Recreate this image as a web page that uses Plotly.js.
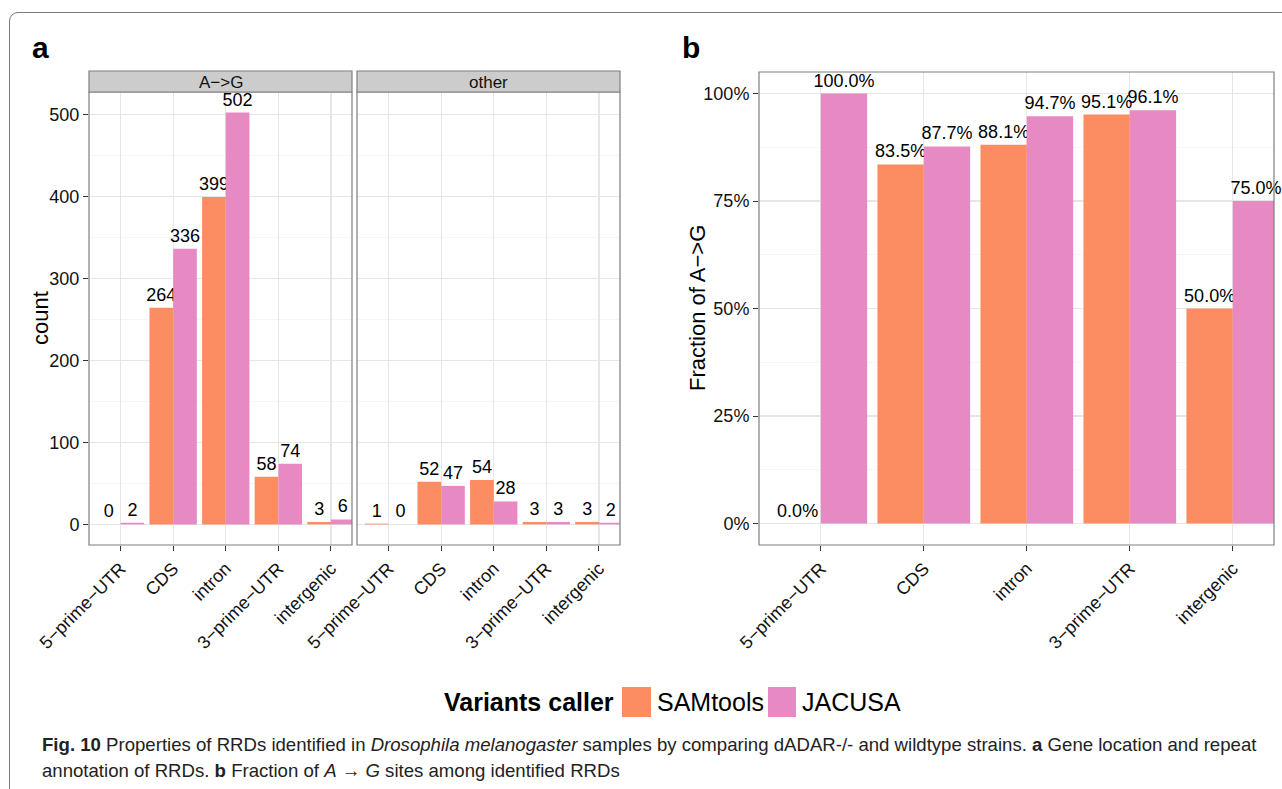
<!DOCTYPE html>
<html>
<head>
<meta charset="utf-8">
<script src="https://cdn.plot.ly/plotly-3.0.1.min.js"></script>
<style>
  html, body { margin: 0; padding: 0; background: #fff; overflow: hidden; }
  #frame { position: absolute; left: 9px; top: 12px; width: 1300px; height: 820px;
           border: 1.5px solid #7a7a7a; border-radius: 9px; box-sizing: border-box; }
  #chart { position: absolute; left: 0; top: 0; width: 1282px; height: 789px; }
</style>
</head>
<body>
<div id="frame"></div>
<div id="chart"></div>
<script>
// ---- data ----
const regions = ["5−prime−UTR", "CDS", "intron", "3−prime−UTR", "intergenic"];
const facetNames = ["A−>G", "other"];
const callers = ["SAMtools", "JACUSA"];
const colors = ["#FC8D62", "#E78AC3"];

const agSAMtools = [0, 264, 399, 58, 3];
const agJACUSA = [2, 336, 502, 74, 6];
const otherSAMtools = [1, 52, 54, 3, 3];
const otherJACUSA = [0, 47, 28, 3, 2];

const fracSAMtools = [0.0, 0.835, 0.881, 0.951, 0.500];
const fracJACUSA = [1.0, 0.877, 0.947, 0.961, 0.750];

const yTitleA = "count";
const yTitleB = "Fraction of A−>G";

// ---- layout geometry helpers ----
const W = 1282, H = 789;
const px = v => v / W;
const py = v => 1 - v / H;
const FAM = "Liberation Sans, Arial, sans-serif";

const textFont = { family: FAM, size: 18, color: "#000" };

function barTrace(xa, ya, y, name, color, fmt) {
  return {
    type: "bar", x: regions, y: y, name: name, xaxis: xa, yaxis: ya,
    marker: { color: color, line: { width: 0 } },
    text: y.map(fmt), textposition: "outside", textfont: textFont,
    constraintext: "none", cliponaxis: false, showlegend: false,
    hoverinfo: "x+y+name"
  };
}
const cnt = v => String(v);
const pct = v => (v * 100).toFixed(1) + "%";

const traces = [
  barTrace("x", "y", agSAMtools, callers[0], colors[0], cnt),
  barTrace("x", "y", agJACUSA, callers[1], colors[1], cnt),
  barTrace("x2", "y3", otherSAMtools, callers[0], colors[0], cnt),
  barTrace("x2", "y3", otherJACUSA, callers[1], colors[1], cnt),
  barTrace("x3", "y2", fracSAMtools, callers[0], colors[0], pct),
  barTrace("x3", "y2", fracJACUSA, callers[1], colors[1], pct)
];

const tickFont = () => ({ family: FAM, size: 18, color: "#111" });
const gridCol = "#E6E6E6";
const minorGrid = "#F6F6F6";

function xAxis(domain, anchor) {
  return {
    domain: domain, anchor: anchor, type: "category",
    range: [-0.6, 4.4], tickangle: -45, tickfont: tickFont(),
    ticks: "outside", ticklen: 5, tickcolor: "#333", tickwidth: 1,
    showgrid: true, gridcolor: gridCol, gridwidth: 1.2,
    showline: false, zeroline: false, fixedrange: true
  };
}

const aBottom = py(545), aTop = py(92), bTop = py(72);

const layout = {
  width: W, height: H,
  margin: { l: 0, r: 0, t: 0, b: 0 },
  paper_bgcolor: "rgba(0,0,0,0)", plot_bgcolor: "#fff",
  barmode: "group", bargap: 0.1, bargroupgap: 0,
  font: { family: FAM },
  xaxis: xAxis([px(89), px(352)], "y"),
  xaxis2: xAxis([px(357), px(620)], "y3"),
  xaxis3: xAxis([px(759), px(1274)], "y2"),
  yaxis: {
    domain: [aBottom, aTop], anchor: "x", range: [-25.1, 527.1],
    tickmode: "linear", tick0: 0, dtick: 100, tickfont: tickFont(),
    ticks: "outside", ticklen: 5, tickcolor: "#333",
    showgrid: true, gridcolor: gridCol, gridwidth: 1.2, zeroline: false,
    minor: { dtick: 50, tick0: 0, showgrid: true, gridcolor: minorGrid, ticks: "" },
    fixedrange: true
  },
  yaxis3: {
    domain: [aBottom, aTop], anchor: "x2", matches: "y", range: [-25.1, 527.1],
    tickmode: "linear", tick0: 0, dtick: 100, showticklabels: false, ticks: "",
    showgrid: true, gridcolor: gridCol, gridwidth: 1.2, zeroline: false,
    minor: { dtick: 50, tick0: 0, showgrid: true, gridcolor: minorGrid, ticks: "" },
    fixedrange: true
  },
  yaxis2: {
    domain: [aBottom, bTop], anchor: "x3", range: [-0.05, 1.05],
    tickmode: "linear", tick0: 0, dtick: 0.25, tickformat: ".0%", tickfont: tickFont(),
    ticks: "outside", ticklen: 5, tickcolor: "#333",
    showgrid: true, gridcolor: gridCol, gridwidth: 1.2, zeroline: false,
    minor: { dtick: 0.125, tick0: 0, showgrid: true, gridcolor: minorGrid, ticks: "" },
    fixedrange: true
  },
  shapes: [
    // panel borders
    { type: "rect", xref: "x domain", yref: "y domain", x0: 0, x1: 1, y0: 0, y1: 1, line: { color: "#7F7F7F", width: 1.2 }, layer: "above" },
    { type: "rect", xref: "x2 domain", yref: "y3 domain", x0: 0, x1: 1, y0: 0, y1: 1, line: { color: "#7F7F7F", width: 1.2 }, layer: "above" },
    { type: "rect", xref: "x3 domain", yref: "y2 domain", x0: 0, x1: 1, y0: 0, y1: 1, line: { color: "#7F7F7F", width: 1.2 }, layer: "above" },
    // strips
    { type: "rect", xref: "paper", yref: "paper", x0: px(89), x1: px(352), y0: py(92), y1: py(71), fillcolor: "#CCCCCC", line: { color: "#7F7F7F", width: 1.2 } },
    { type: "rect", xref: "paper", yref: "paper", x0: px(357), x1: px(620), y0: py(92), y1: py(71), fillcolor: "#CCCCCC", line: { color: "#7F7F7F", width: 1.2 } },
    // legend keys
    { type: "rect", xref: "paper", yref: "paper", x0: px(622), x1: px(651), y0: py(717), y1: py(687), fillcolor: colors[0], line: { width: 0 } },
    { type: "rect", xref: "paper", yref: "paper", x0: px(768), x1: px(796), y0: py(717), y1: py(687), fillcolor: colors[1], line: { width: 0 } }
  ],
  annotations: [
    { text: "<b>a</b>", xref: "paper", yref: "paper", x: px(30), y: py(47), xanchor: "left", yanchor: "middle", showarrow: false, font: { size: 30, color: "#000", family: FAM } },
    { text: "<b>b</b>", xref: "paper", yref: "paper", x: px(680), y: py(47), xanchor: "left", yanchor: "middle", showarrow: false, font: { size: 30, color: "#000", family: FAM } },
    { text: yTitleA, xref: "paper", yref: "paper", x: px(40), y: py(318), xanchor: "center", yanchor: "middle", textangle: -90, showarrow: false, font: { size: 22, color: "#000", family: FAM } },
    { text: yTitleB, xref: "paper", yref: "paper", x: px(697), y: py(308), xanchor: "center", yanchor: "middle", textangle: -90, showarrow: false, font: { size: 22, color: "#000", family: FAM } },
    { text: facetNames[0], xref: "paper", yref: "paper", x: px(220.5), y: py(82), xanchor: "center", yanchor: "middle", showarrow: false, font: { size: 17, color: "#111", family: FAM } },
    { text: facetNames[1], xref: "paper", yref: "paper", x: px(488.5), y: py(82), xanchor: "center", yanchor: "middle", showarrow: false, font: { size: 17, color: "#111", family: FAM } },
    { text: "<b>Variants caller</b>", xref: "paper", yref: "paper", x: px(616), y: py(702), xanchor: "right", yanchor: "middle", showarrow: false, font: { size: 25, color: "#000", family: FAM } },
    { text: callers[0], xref: "paper", yref: "paper", x: px(655), y: py(702), xanchor: "left", yanchor: "middle", showarrow: false, font: { size: 25, color: "#000", family: FAM } },
    { text: callers[1], xref: "paper", yref: "paper", x: px(800), y: py(702), xanchor: "left", yanchor: "middle", showarrow: false, font: { size: 25, color: "#000", family: FAM } },
    { text: "<b>Fig. 10</b> Properties of RRDs identified in <i>Drosophila melanogaster</i> samples by comparing dADAR-/- and wildtype strains. <b>a</b> Gene location and repeat",
      xref: "paper", yref: "paper", x: px(40), y: py(744), xanchor: "left", yanchor: "middle", showarrow: false,
      font: { size: 18.6, color: "#222", family: FAM } },
    { text: "annotation of RRDs. <b>b</b> Fraction of <i>A</i> → <i>G</i> sites among identified RRDs",
      xref: "paper", yref: "paper", x: px(40), y: py(770), xanchor: "left", yanchor: "middle", showarrow: false,
      font: { size: 18.6, color: "#222", family: FAM } }
  ]
};

Plotly.newPlot("chart", traces, layout, { displayModeBar: false, staticPlot: true });
</script>
</body>
</html>
